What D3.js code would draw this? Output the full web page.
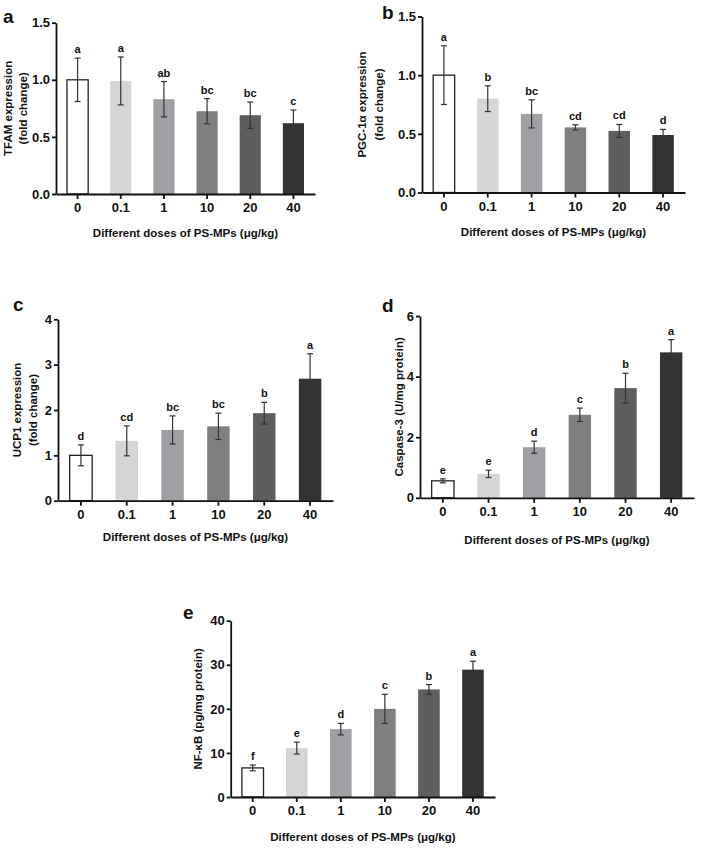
<!DOCTYPE html>
<html>
<head>
<meta charset="utf-8">
<script src="https://cdn.jsdelivr.net/npm/d3@7"></script>
<style>
  body { margin: 0; background: #fff; }
  svg { display: block; font-family: "Liberation Sans", Arial, sans-serif; font-weight: bold; }
</style>
</head>
<body>
<svg id="container" width="704" height="848"></svg>
<script>
// doses on the x axis
const doses = ["0", "0.1", "1", "10", "20", "40"];
const xTitle = "Different doses of PS-MPs (\u03bcg/kg)";

// a: TFAM
const tfamMean = [1.0, 0.99, 0.83, 0.725, 0.69, 0.62];
const tfamSd = [0.19, 0.21, 0.155, 0.11, 0.115, 0.115];
const tfamSig = ["a", "a", "ab", "bc", "bc", "c"];

// b: PGC-1a
const pgcMean = [1.0, 0.80, 0.67, 0.555, 0.525, 0.49];
const pgcSd = [0.25, 0.11, 0.12, 0.022, 0.055, 0.048];
const pgcSig = ["a", "b", "bc", "cd", "cd", "d"];

// c: UCP1
const ucpMean = [1.0, 1.32, 1.56, 1.64, 1.93, 2.69];
const ucpSd = [0.23, 0.33, 0.31, 0.29, 0.24, 0.55];
const ucpSig = ["d", "cd", "bc", "bc", "b", "a"];

// d: Caspase-3
const caspMean = [0.56, 0.79, 1.67, 2.74, 3.62, 4.8];
const caspSd = [0.065, 0.12, 0.2, 0.22, 0.49, 0.42];
const caspSig = ["e", "e", "d", "c", "b", "a"];

// e: NF-kB
const nfkbMean = [6.6, 11.1, 15.4, 20.0, 24.4, 28.9];
const nfkbSd = [0.65, 1.35, 1.3, 3.3, 1.1, 1.9];
const nfkbSig = ["f", "e", "d", "c", "b", "a"];

const fills = ["#ffffff", "#d5d5d5", "#a0a0a4", "#7f7f7f", "#5e5e5e", "#333333"];

const panels = [
  {tag: "a", mean: tfamMean, sd: tfamSd, sig: tfamSig, ymax: 1.5, ticks: [0, 0.5, 1.0, 1.5], fmt: ".1f",
   title: ["TFAM expression", "(fold change)"], titleX: [7.5, 22.5],
   left: 56, right: 315, top: 22.7, bottom: 194, tagX: 3, tagY: 23, xtOff: 43},
  {tag: "b", mean: pgcMean, sd: pgcSd, sig: pgcSig, ymax: 1.5, ticks: [0, 0.5, 1.0, 1.5], fmt: ".1f",
   title: ["PGC-1\u03b1 expression", "(fold change)"], titleX: [362, 379],
   left: 422, right: 685, top: 16.5, bottom: 192.5, tagX: 382, tagY: 18.5, xtOff: 43.5},
  {tag: "c", mean: ucpMean, sd: ucpSd, sig: ucpSig, ymax: 4, ticks: [0, 1, 2, 3, 4], fmt: "d",
   title: ["UCP1 expression", "(fold change)"], titleX: [17, 33],
   left: 58, right: 333, top: 319.3, bottom: 500.7, tagX: 13, tagY: 311, xtOff: 40},
  {tag: "d", mean: caspMean, sd: caspSd, sig: caspSig, ymax: 6, ticks: [0, 2, 4, 6], fmt: "d",
   title: ["Caspase-3 (U/mg protein)"], titleX: [399],
   left: 420, right: 694, top: 316, bottom: 497.8, tagX: 382, tagY: 312, xtOff: 46.5},
  {tag: "e", mean: nfkbMean, sd: nfkbSd, sig: nfkbSig, ymax: 40, ticks: [0, 10, 20, 30, 40], fmt: "d",
   title: ["NF-\u03baB (pg/mg protein)"], titleX: [198],
   left: 230.7, right: 495, top: 620.7, bottom: 797, tagX: 183, tagY: 619, xtOff: 43.7}
];

const svg = d3.select("#container");

panels.forEach(p => {
  const g = svg.append("g");

  const x = d3.scaleBand().domain(doses).range([p.left, p.right]).padding(0);
  const y = d3.scaleLinear().domain([0, p.ymax]).range([p.bottom, p.top]);
  const bw = x.bandwidth() * 0.49;

  // bars
  g.append("g").selectAll("rect")
    .data(p.mean)
    .join("rect")
    .attr("x", (d, i) => x(doses[i]) + x.bandwidth() / 2 - bw / 2)
    .attr("y", d => y(d))
    .attr("width", bw)
    .attr("height", d => y(0) - y(d))
    .attr("fill", (d, i) => fills[i])
    .attr("stroke", (d, i) => i === 0 ? "#222" : "none")
    .attr("stroke-width", 1.3);

  // error bars
  const eb = g.append("g")
    .attr("stroke", "#333")
    .attr("stroke-width", 1.2)
    .selectAll("g")
    .data(p.mean)
    .join("g")
    .attr("transform", (d, i) => `translate(${x(doses[i]) + x.bandwidth() / 2},0)`);

  eb.append("line")
    .attr("y1", (d, i) => y(d - p.sd[i]))
    .attr("y2", (d, i) => y(d + p.sd[i]));
  eb.append("line")
    .attr("x1", -3).attr("x2", 3)
    .attr("y1", (d, i) => y(d + p.sd[i]))
    .attr("y2", (d, i) => y(d + p.sd[i]));
  eb.append("line")
    .attr("x1", -3).attr("x2", 3)
    .attr("y1", (d, i) => y(d - p.sd[i]))
    .attr("y2", (d, i) => y(d - p.sd[i]));

  // significance letters
  g.append("g").selectAll("text")
    .data(p.sig)
    .join("text")
    .attr("x", (d, i) => x(doses[i]) + x.bandwidth() / 2)
    .attr("y", (d, i) => y(p.mean[i] + p.sd[i]) - 5)
    .attr("text-anchor", "middle")
    .attr("font-size", 11)
    .attr("fill", "#111")
    .text(d => d);

  // axes
  g.append("g")
    .attr("transform", `translate(0,${p.bottom})`)
    .call(d3.axisBottom(x).tickSize(5).tickSizeOuter(0).tickPadding(4))
    .call(a => a.attr("font-family", null))
    .call(a => a.selectAll("text").attr("font-size", 13).attr("fill", "#111"))
    .call(a => a.selectAll("line, path").attr("stroke", "#111").attr("stroke-width", 1.8));

  g.append("g")
    .attr("transform", `translate(${p.left},0)`)
    .call(d3.axisLeft(y).tickValues(p.ticks).tickFormat(d3.format(p.fmt)).tickSize(4).tickSizeOuter(0).tickPadding(2))
    .call(a => a.attr("font-family", null))
    .call(a => a.selectAll("text").attr("font-size", 13).attr("fill", "#111"))
    .call(a => a.selectAll("line, path").attr("stroke", "#111").attr("stroke-width", 1.8));

  // x title
  g.append("text")
    .attr("x", (p.left + p.right) / 2)
    .attr("y", p.bottom + p.xtOff)
    .attr("text-anchor", "middle")
    .attr("font-size", 11.5)
    .attr("fill", "#111")
    .text(xTitle);

  // y title
  const yc = (p.top + p.bottom) / 2;
  p.title.forEach((t, k) => {
    g.append("text")
      .attr("transform", `translate(${p.titleX[k]},${yc}) rotate(-90)`)
      .attr("dy", "0.35em")
      .attr("text-anchor", "middle")
      .attr("font-size", 11.5)
      .attr("fill", "#111")
      .text(t);
  });

  // panel tag
  g.append("text")
    .attr("x", p.tagX)
    .attr("y", p.tagY)
    .attr("font-size", 19)
    .attr("fill", "#111")
    .text(p.tag);
});
</script>
</body>
</html>
